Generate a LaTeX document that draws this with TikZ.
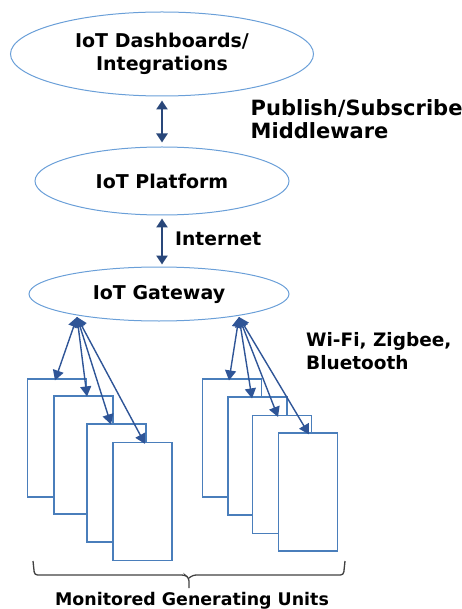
\documentclass[tikz,border=0pt]{standalone}
\usepackage{fontspec}
\setmainfont{DejaVu Sans}
\usetikzlibrary{shapes.geometric,arrows.meta}
\definecolor{ellline}{HTML}{6A9FD8}
\definecolor{boxline}{HTML}{4A7EBB}
\definecolor{linkcol}{HTML}{2F5597}
\definecolor{navy}{HTML}{29477A}
\definecolor{bracecol}{HTML}{404040}
\begin{document}
\begin{tikzpicture}[x=1pt,y=-1pt,
  layer/.style={ellipse,draw=ellline,line width=1pt,inner sep=0pt,align=center,
    font=\fontsize{19}{23}\selectfont\bfseries},
  unit/.style={rectangle,draw=boxline,line width=1.2pt,fill=white,
    minimum width=59pt,minimum height=118pt,inner sep=0pt},
  uplink/.style={draw=navy,line width=2.3pt,{Triangle[width=11pt,length=9pt]}-{Triangle[width=11pt,length=9pt]}},
  radio/.style={draw=linkcol,line width=1.4pt,{Triangle[width=11pt,length=10pt]}-{Triangle[width=11pt,length=10pt]}},
  tag/.style={inner sep=0pt,align=left,anchor=west,font=\fontsize{18.7}{23}\selectfont\bfseries}]
\useasboundingbox (0,0) rectangle (462,609);

% protocol stack
\node[layer,minimum width=303pt,minimum height=84pt] (dash) at (162,54)
  {IoT Dashboards/\\Integrations};
\node[layer,minimum width=254pt,minimum height=68pt] (plat) at (162,181) {IoT Platform};
\node[layer,minimum width=260pt,minimum height=54pt] (gw) at (159,294) {IoT Gateway};

\draw[uplink,shorten <=4pt,shorten >=4pt] (dash.south) -- (plat.north);
\draw[uplink,shorten <=3pt,shorten >=2pt] (plat.south) -- (plat.south |- gw.north);

\node[tag,font=\fontsize{21}{22.5}\selectfont\bfseries] (pubsub) at (250.5,119)
  {Publish/Subscribe\\Middleware};
\node[tag] (inet) at (175,239) {Internet};
\node[tag,font=\fontsize{18.5}{23}\selectfont\bfseries] (radios) at (306,351)
  {Wi-Fi, Zigbee,\\Bluetooth};

% generating units, left group
\node[unit] (u1) at (57,438) {};
\node[unit] (u2) at (83.5,455) {};
\node[unit] (u3) at (116.5,483) {};
\node[unit] (u4) at (142.5,501.5) {};
% generating units, right group
\node[unit] (u5) at (232,438) {};
\node[unit] (u6) at (257.5,456) {};
\node[unit] (u7) at (282,474.5) {};
\node[unit] (u8) at (308,492) {};

% wireless links from the gateway
\coordinate (gl) at (77,317);
\coordinate (gr) at (239,317);
\draw[radio] (gl) -- ([xshift=-2pt,yshift=-2pt]u1.north);
\draw[radio] (gl) -- ([xshift=3.5pt,yshift=-1pt]u2.north);
\draw[radio] (gl) -- ([xshift=-5.5pt,yshift=-1pt]u3.north);
\draw[radio] (gl) -- ([xshift=2.5pt,yshift=-2pt]u4.north);
\draw[radio] (gr) -- ([xshift=-3pt,yshift=-2pt]u5.north);
\draw[radio] (gr) -- ([xshift=-5.5pt,yshift=-2pt]u6.north);
\draw[radio] (gr) -- ([xshift=-4pt,yshift=-2pt]u7.north);
\draw[radio] (gr) -- ([xshift=1pt,yshift=-2pt]u8.north);

% brace under all units
\coordinate (bl) at (33,561);
\coordinate (br) at (345,561);
\coordinate (btip) at (189,588);
\draw[bracecol,line width=1.3pt,rounded corners=3pt]
  (bl) -- (34.5,575) -- (185,575) -- (189,578) -- (btip);
\draw[bracecol,line width=1.3pt,rounded corners=3pt]
  (br) -- (343.5,575) -- (193,575) -- (189,578);
\node[inner sep=0pt,font=\fontsize{17.4}{21}\selectfont\bfseries] (units) at (192,601)
  {Monitored Generating Units};
\end{tikzpicture}
\end{document}
